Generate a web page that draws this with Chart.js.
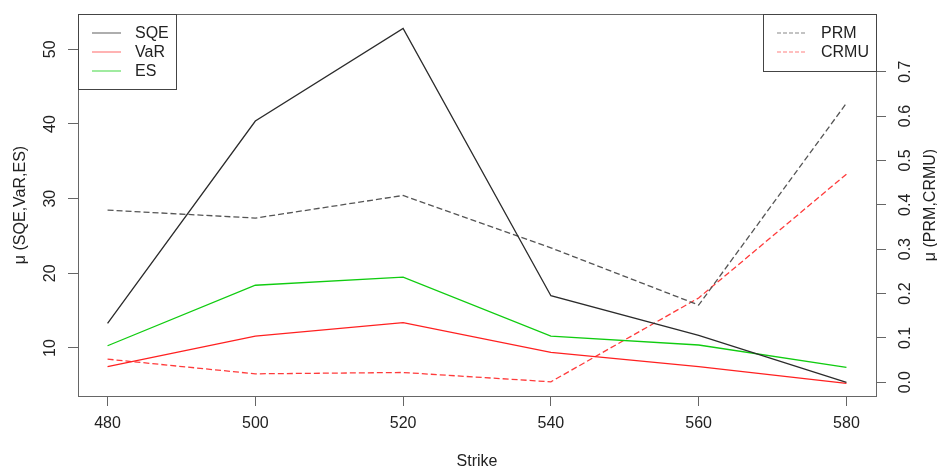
<!DOCTYPE html>
<html>
<head>
<meta charset="utf-8">
<script src="https://cdn.jsdelivr.net/npm/chart.js@4"></script>
<style>
  html, body { margin: 0; padding: 0; background: #fff; }
  #wrap { width: 937px; height: 471px; }
</style>
</head>
<body>
<div id="wrap"><canvas id="chart" width="937" height="471"></canvas></div>
<script>
/* global document, Chart */

// strike prices on the x axis
let strikes = [480, 500, 520, 540, 560, 580];

// left axis series
let sqe = [13.3, 40.4, 52.8, 17.0, 11.7, 5.4];
let varValues = [7.5, 11.6, 13.4, 9.4, 7.5, 5.25];
let es = [10.3, 18.4, 19.5, 11.6, 10.4, 7.4];

// right axis series
let prm = [0.388, 0.370, 0.421, 0.303, 0.174, 0.629];
let crmu = [0.052, 0.019, 0.022, 0.001, 0.190, 0.469];

// tick labels
let xTicks = [480, 500, 520, 540, 560, 580];
let leftTicks = [10, 20, 30, 40, 50];
let rightTicks = [0.0, 0.1, 0.2, 0.3, 0.4, 0.5, 0.6, 0.7];

const FONT = '"Liberation Sans", Arial, sans-serif';
const TEXT = '#222';
const AXIS = '#666';

function points(ys) {
    return strikes.map((x, i) => ({ x: x, y: ys[i] }));
}

function series(label, data, color, legendColor, axis, dash) {
    return {
        label: label,
        data: points(data),
        borderColor: color,
        legendColor: legendColor,
        borderWidth: 1.3,
        borderDash: dash || [],
        pointRadius: 0,
        tension: 0,
        fill: false,
        yAxisID: axis
    };
}

let datasets = [
    series('SQE', sqe, '#2b2b2b', '#777777', 'y'),
    series('VaR', varValues, '#ff2020', '#ff8080', 'y'),
    series('ES', es, '#10cc10', '#60dd60', 'y'),
    series('PRM', prm, '#555555', '#888888', 'y2', [6, 3]),
    series('CRMU', crmu, '#ff3b3b', '#ff8080', 'y2', [6, 3])
];

// box around the plot, the two legends and the axis titles
let decorations = {
    id: 'decorations',
    afterDraw(chart) {
        let ctx = chart.ctx;
        let area = chart.chartArea;
        ctx.save();

        ctx.strokeStyle = AXIS;
        ctx.lineWidth = 1;
        ctx.strokeRect(area.left + 0.5, area.top + 0.5, area.right - area.left, area.bottom - area.top);

        function legend(x0, y0, x1, y1, items, lineX, textX) {
            ctx.fillStyle = '#fff';
            ctx.fillRect(x0, y0, x1 - x0, y1 - y0);
            ctx.strokeStyle = '#444';
            ctx.lineWidth = 1;
            ctx.setLineDash([]);
            ctx.strokeRect(x0 + 0.5, y0 + 0.5, x1 - x0, y1 - y0);
            ctx.font = '16px ' + FONT;
            ctx.textBaseline = 'middle';
            ctx.textAlign = 'left';
            items.forEach((ds, i) => {
                let y = y0 + 19 + i * 19;
                ctx.strokeStyle = ds.legendColor;
                ctx.lineWidth = 1.2;
                ctx.setLineDash(ds.borderDash.length ? [4, 2] : []);
                ctx.beginPath();
                ctx.moveTo(lineX[0], y);
                ctx.lineTo(lineX[1], y);
                ctx.stroke();
                ctx.fillStyle = TEXT;
                ctx.fillText(ds.label, textX, y + 1);
            });
            ctx.setLineDash([]);
        }

        let ds = chart.data.datasets;
        legend(area.left, area.top, 176, 89, ds.slice(0, 3), [92, 121], 135);
        legend(763, area.top, area.right, 71, ds.slice(3), [777, 805], 821);

        ctx.fillStyle = TEXT;
        ctx.font = '16px ' + FONT;
        ctx.textAlign = 'center';
        ctx.textBaseline = 'middle';
        let midY = (area.top + area.bottom) / 2;

        ctx.save();
        ctx.translate(21, midY);
        ctx.rotate(-Math.PI / 2);
        ctx.fillText('μ (SQE,VaR,ES)', 0, 0);
        ctx.restore();

        ctx.save();
        ctx.translate(931, midY);
        ctx.rotate(-Math.PI / 2);
        ctx.fillText('μ (PRM,CRMU)', 0, 0);
        ctx.restore();

        ctx.fillText('Strike', (area.left + area.right) / 2, 462);
        ctx.restore();
    }
};

function tickList(values) {
    return function(scale) {
        scale.ticks = values.map(v => ({ value: v }));
    };
}

// fixed axis sizes, no extra room for end labels
function fixWidth(w) {
    return function(scale) {
        scale.width = w;
        scale.paddingTop = 0;
        scale.paddingBottom = 0;
    };
}

new Chart(document.getElementById('chart'), {
    type: 'line',
    data: { datasets: datasets },
    plugins: [decorations],
    options: {
        responsive: false,
        animation: false,
        devicePixelRatio: 1,
        layout: { padding: { top: 14, left: 0, right: 0, bottom: 0 } },
        plugins: { legend: { display: false }, tooltip: { enabled: false } },
        scales: {
            x: {
                type: 'linear',
                min: 476,
                max: 584,
                afterBuildTicks: tickList(xTicks),
                afterFit: s => { s.height = 75; s.paddingLeft = 0; s.paddingRight = 0; },
                border: { display: false },
                grid: { drawOnChartArea: false, drawTicks: true, tickLength: 10, color: AXIS },
                ticks: {
                    font: { family: FONT, size: 16 },
                    color: TEXT,
                    padding: 8,
                    maxRotation: 0,
                    callback: v => String(v)
                }
            },
            y: {
                type: 'linear',
                position: 'left',
                min: 3.57,
                max: 54.73,
                afterBuildTicks: tickList(leftTicks),
                afterFit: fixWidth(78),
                border: { display: false },
                grid: { drawOnChartArea: false, drawTicks: true, tickLength: 10, color: AXIS },
                ticks: {
                    font: { family: FONT, size: 16 },
                    color: TEXT,
                    minRotation: 90,
                    maxRotation: 90,
                    crossAlign: 'center',
                    padding: 9,
                    callback: v => String(v)
                }
            },
            y2: {
                type: 'linear',
                position: 'right',
                min: -0.031,
                max: 0.830,
                afterBuildTicks: tickList(rightTicks),
                afterFit: fixWidth(61),
                border: { display: false },
                grid: { drawOnChartArea: false, drawTicks: true, tickLength: 10, color: AXIS },
                ticks: {
                    font: { family: FONT, size: 16 },
                    color: TEXT,
                    minRotation: 90,
                    maxRotation: 90,
                    crossAlign: 'center',
                    padding: 8,
                    callback: v => v.toFixed(1)
                }
            }
        }
    }
});
</script>
</body>
</html>
